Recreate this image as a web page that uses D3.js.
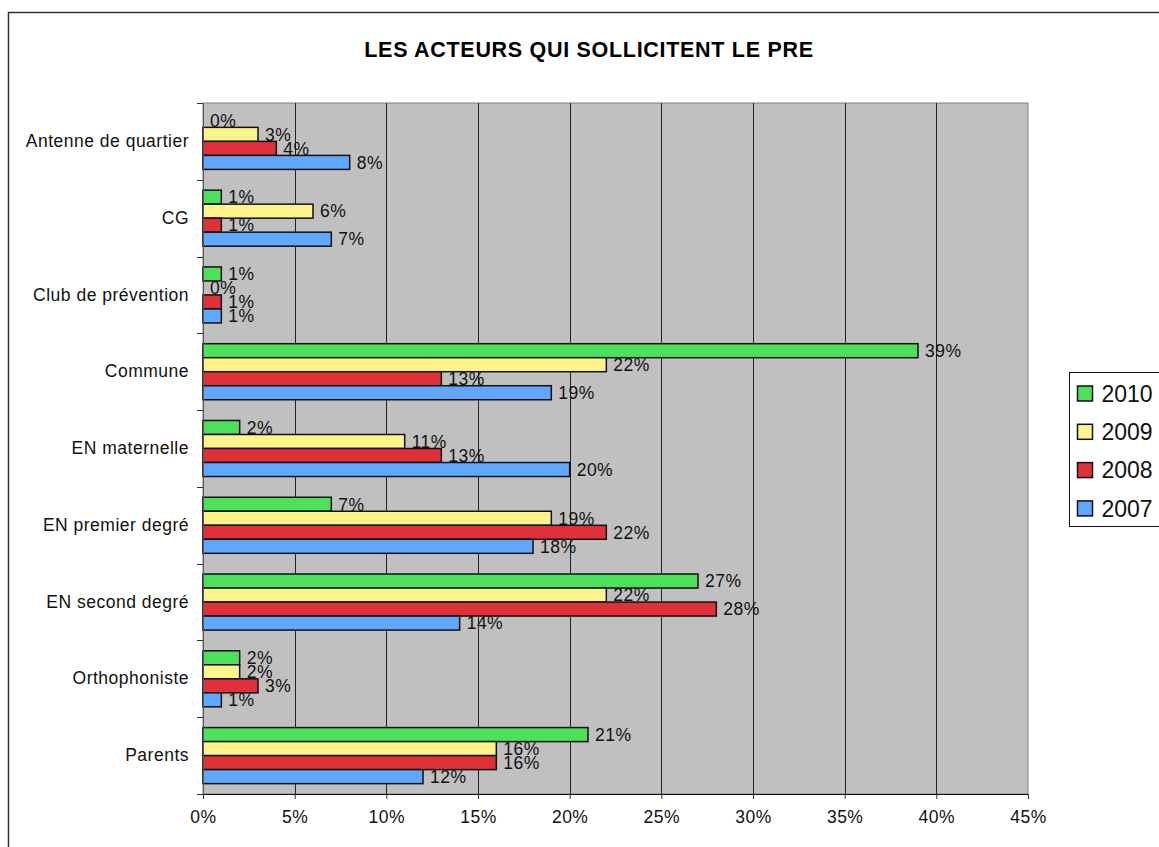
<script src="https://cdn.jsdelivr.net/npm/d3@7"></script>
<style>
  body { margin: 0; background: #fff; }
  text { font-family: Arial, "Liberation Sans", sans-serif; }
</style>
<div id="chart"></div>
<script>
// categories, top to bottom
var categories = ["Antenne de quartier", "CG", "Club de prévention", "Commune", "EN maternelle",
                  "EN premier degré", "EN second degré", "Orthophoniste", "Parents"];
var years = ["2010", "2009", "2008", "2007"];
var values2010 = [0, 1, 1, 39, 2, 7, 27, 2, 21];
var values2009 = [3, 6, 0, 22, 11, 19, 22, 2, 16];
var values2008 = [4, 1, 1, 13, 13, 22, 28, 3, 16];
var values2007 = [8, 7, 1, 19, 20, 18, 14, 1, 12];
var xTicks = [0, 5, 10, 15, 20, 25, 30, 35, 40, 45];
var colors = ["#4de05a", "#fff48c", "#e0303a", "#60a8ff"];

var series = [values2010, values2009, values2008, values2007];

var W = 1159, H = 847;
var margin = {top: 103, left: 203},
    width = 1028 - 203,
    height = 794 - 103;

var svg = d3.select("#chart").append("svg")
    .attr("width", W).attr("height", H);

// outer chart frame (runs past the picture on right and bottom)
svg.append("rect")
    .attr("x", 8.5).attr("y", 12.5)
    .attr("width", 1200).attr("height", 900)
    .attr("fill", "#fff").attr("stroke", "#333").attr("stroke-width", 1.5);

svg.append("text")
    .attr("x", 589).attr("y", 57)
    .attr("text-anchor", "middle")
    .style("font-size", "21.5px").style("font-weight", "bold")
    .style("letter-spacing", "0.7px")
    .text("LES ACTEURS QUI SOLLICITENT LE PRE");

var g = svg.append("g").attr("transform", "translate(" + margin.left + "," + margin.top + ")");

var x = d3.scaleLinear().domain([0, 45]).range([0, width]);
var y0 = d3.scaleBand().domain(categories).range([0, height]).paddingInner(0.27).paddingOuter(0.135);
var y1 = d3.scaleBand().domain(years).range([0, y0.bandwidth()]);

g.append("rect")
    .attr("width", width).attr("height", height)
    .attr("fill", "#c0c0c0").attr("stroke", "#808080");

// vertical gridlines
g.selectAll(".grid").data(xTicks.slice(1, -1)).enter().append("line")
    .attr("x1", function(d) { return Math.round(x(d)) + 0.5; })
    .attr("x2", function(d) { return Math.round(x(d)) + 0.5; })
    .attr("y1", 0).attr("y2", height)
    .attr("stroke", "#222").attr("stroke-width", 1);

// bars
var groups = g.selectAll(".cat").data(categories).enter().append("g")
    .attr("transform", function(d) { return "translate(0," + y0(d) + ")"; });

groups.each(function(cat, ci) {
    var grp = d3.select(this);
    years.forEach(function(yr, si) {
        var v = series[si][ci];
        if (v > 0) {
            grp.append("rect")
                .attr("x", 0).attr("y", y1(yr))
                .attr("width", x(v)).attr("height", y1.bandwidth())
                .attr("fill", colors[si]).attr("stroke", "#111").attr("stroke-width", 1.5);
        }
        grp.append("text")
            .attr("x", x(v) + 7)
            .attr("y", y1(yr) + y1.bandwidth() / 2)
            .attr("dy", "0.36em")
            .style("font-size", "17.5px").style("letter-spacing", "0.5px").attr("fill", "#111")
            .text(v + "%");
    });
});

// left axis
var yAxis = g.append("g")
    .call(d3.axisLeft(y0).tickSize(0).tickPadding(14));
yAxis.select(".domain").attr("stroke", "#555");
yAxis.selectAll("text").style("font-size", "17.5px").style("letter-spacing", "0.5px")
    .attr("fill", "#111").style("font-family", "Arial, 'Liberation Sans', sans-serif");
var bounds = d3.range(categories.length + 1).map(function(i) { return i * y0.step(); });
g.selectAll(".ytick").data(bounds).enter().append("line")
    .attr("x1", -6).attr("x2", 0)
    .attr("y1", function(d) { return Math.round(d) + 0.5; })
    .attr("y2", function(d) { return Math.round(d) + 0.5; })
    .attr("stroke", "#333");

// bottom axis
var xAxis = g.append("g").attr("transform", "translate(0," + height + ")")
    .call(d3.axisBottom(x).tickValues(xTicks).tickSize(5).tickPadding(12)
        .tickFormat(function(d) { return d + "%"; }));
xAxis.select(".domain").attr("stroke", "#111");
xAxis.selectAll("line").attr("stroke", "#333");
xAxis.selectAll("text").style("font-size", "17.5px").style("letter-spacing", "0.5px")
    .attr("fill", "#111").style("font-family", "Arial, 'Liberation Sans', sans-serif");

// legend
var legend = svg.append("g").attr("transform", "translate(1069.5,372.5)");
legend.append("rect")
    .attr("width", 200).attr("height", 154)
    .attr("fill", "#fff").attr("stroke", "#111");
years.forEach(function(yr, i) {
    var row = legend.append("g").attr("transform", "translate(8," + (21 + i * 38.3) + ")");
    row.append("rect")
        .attr("x", 0).attr("y", -7.5).attr("width", 15).attr("height", 15)
        .attr("fill", colors[i]).attr("stroke", "#111").attr("stroke-width", 1.5);
    row.append("text")
        .attr("x", 24).attr("y", 0).attr("dy", "0.36em")
        .style("font-size", "23px").attr("fill", "#111")
        .text(yr);
});
</script>
